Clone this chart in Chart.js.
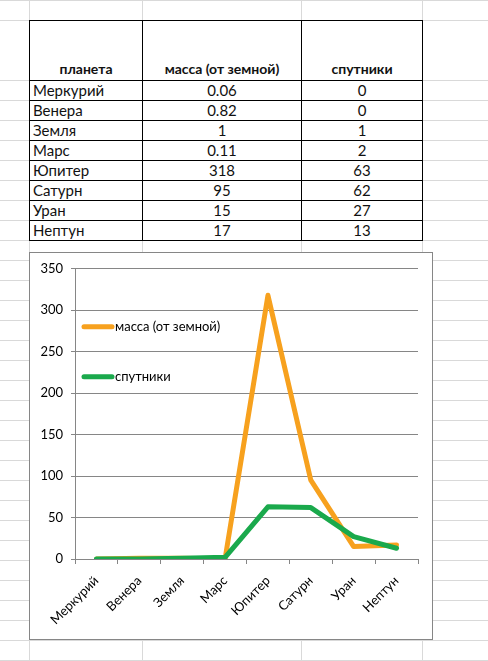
<!DOCTYPE html>
<html>
<head>
<meta charset="utf-8">
<script src="https://cdn.jsdelivr.net/npm/chart.js@4.4.0/dist/chart.umd.min.js"></script>
<style>
  html, body { margin: 0; padding: 0; background: #fff; }
  body { width: 488px; height: 661px; position: relative; overflow: hidden; font-family: Lato, "Open Sans", sans-serif; }
  .hline { position: absolute; left: 0; width: 488px; height: 1px; background: #d9d9d9; }
  .vline { position: absolute; top: 0; height: 661px; width: 1px; background: #d9d9d9; }
  #sheet { position: absolute; left: 29px; top: 20px; border-collapse: collapse; font-size: 15px; color: #111; background: #fff; }
  #sheet td, #sheet th { border: 1px solid #000; padding: 0 3px; height: 19px; line-height: 19px; white-space: nowrap; }
  #sheet th { height: 59px; vertical-align: bottom; font-weight: bold; font-size: 14px; text-align: center; line-height: 22px; }
  #sheet td.num { text-align: center; }
  #chartBox { position: absolute; left: 29px; top: 252px; width: 404px; height: 388px; box-sizing: border-box; border: 1px solid #868686; background: #fff; }
  #chartBox canvas { display: block; }
</style>
</head>
<body>
<div id="grid"></div>
<table id="sheet">
  <colgroup><col style="width:113px"><col style="width:159px"><col style="width:121px"></colgroup>
  <thead><tr id="headRow"></tr></thead>
  <tbody id="bodyRows"></tbody>
</table>
<div id="chartBox"><canvas id="chart1" width="402" height="386"></canvas></div>

<script>
// DATA

let headers = ["планета", "масса (от земной)", "спутники"];
let planets = ["Меркурий", "Венера", "Земля", "Марс", "Юпитер", "Сатурн", "Уран", "Нептун"];
let mass = [0.06, 0.82, 1, 0.11, 318, 95, 15, 17];
let moons = [0, 0, 1, 2, 63, 62, 27, 13];
let yTicks = [0, 50, 100, 150, 200, 250, 300, 350];


// SPREADSHEET GRID BEHIND EVERYTHING

let grid = document.getElementById("grid");
let rowLines = [0, 20];
for (let y = 80; y <= 660; y += 20) rowLines.push(y);
rowLines.forEach(function(y){
	let d = document.createElement("div");
	d.className = "hline";
	d.style.top = y + "px";
	grid.appendChild(d);
});
[29, 142, 301, 422].forEach(function(x){
	let d = document.createElement("div");
	d.className = "vline";
	d.style.left = x + "px";
	grid.appendChild(d);
});


// THE TABLE

let headRow = document.getElementById("headRow");
headers.forEach(function(h){
	let th = document.createElement("th");
	th.textContent = h;
	headRow.appendChild(th);
});

let bodyRows = document.getElementById("bodyRows");
for (let i = 0; i < planets.length; i++){
	let tr = document.createElement("tr");
	let cells = [planets[i], String(mass[i]), String(moons[i])];
	cells.forEach(function(c, j){
		let td = document.createElement("td");
		td.textContent = c;
		if (j > 0) td.className = "num";
		tr.appendChild(td);
	});
	bodyRows.appendChild(tr);
}


// THE CHART

let axisColor = "#868686";
let chartFont = { family: "Lato", size: 13 };

// legend drawn inside the plot area, like excel does it
let plotLegend = {
	id: "plotLegend",
	afterDraw: function(chart){
		let ctx = chart.ctx;
		let area = chart.chartArea;
		let sets = chart.data.datasets;
		ctx.save();
		ctx.font = chartFont.size + "px " + chartFont.family;
		ctx.textBaseline = "middle";
		ctx.fillStyle = "#000";
		for (let i = 0; i < sets.length; i++){
			let y = area.top + 58 + i * 50;
			let x = area.left + 9;
			ctx.beginPath();
			ctx.strokeStyle = sets[i].borderColor;
			ctx.lineWidth = sets[i].borderWidth;
			ctx.lineCap = "round";
			ctx.moveTo(x, y);
			ctx.lineTo(x + 28, y);
			ctx.stroke();
			ctx.fillText(sets[i].label, x + 31, y);
		}
		ctx.restore();
	}
};

let ctx1 = document.getElementById("chart1");

let myChart1 = new Chart(ctx1, {
	type: "line",
	data: {
		labels: planets,
		datasets: [{
			label: headers[1],
			data: mass,
			borderColor: "#f7a11e",
			backgroundColor: "#f7a11e",
			borderWidth: 5,
			order: 1
		}, {
			label: headers[2],
			data: moons,
			borderColor: "#1aa94c",
			backgroundColor: "#1aa94c",
			borderWidth: 5,
			order: 0
		}]
	},
	options: {
		responsive: false,
		animation: false,
		events: [],
		layout: { padding: { top: 13, right: 14, bottom: 0, left: 0 } },
		elements: {
			line: { tension: 0, borderCapStyle: "round", borderJoinStyle: "round" },
			point: { radius: 0 }
		},
		plugins: {
			legend: { display: false },
			tooltip: { enabled: false }
		},
		scales: {
			x: {
				offset: true,
				afterFit: function(s){ s.height = 80; },
				grid: {
					offset: true,
					drawOnChartArea: false,
					color: axisColor,
					tickLength: 5
				},
				border: { color: axisColor },
				ticks: {
					color: "#000",
					font: chartFont,
					minRotation: 45,
					maxRotation: 45,
					padding: 9,
					autoSkip: false
				}
			},
			y: {
				min: yTicks[0],
				max: yTicks[yTicks.length - 1],
				afterFit: function(s){ s.width = 45; },
				afterBuildTicks: function(s){ s.ticks = yTicks.map(function(v){ return { value: v }; }); },
				grid: { color: axisColor, tickLength: 4 },
				border: { color: axisColor },
				ticks: {
					color: "#000",
					font: chartFont,
					padding: 8
				}
			}
		}
	},
	plugins: [plotLegend]
});
</script>
</body>
</html>
